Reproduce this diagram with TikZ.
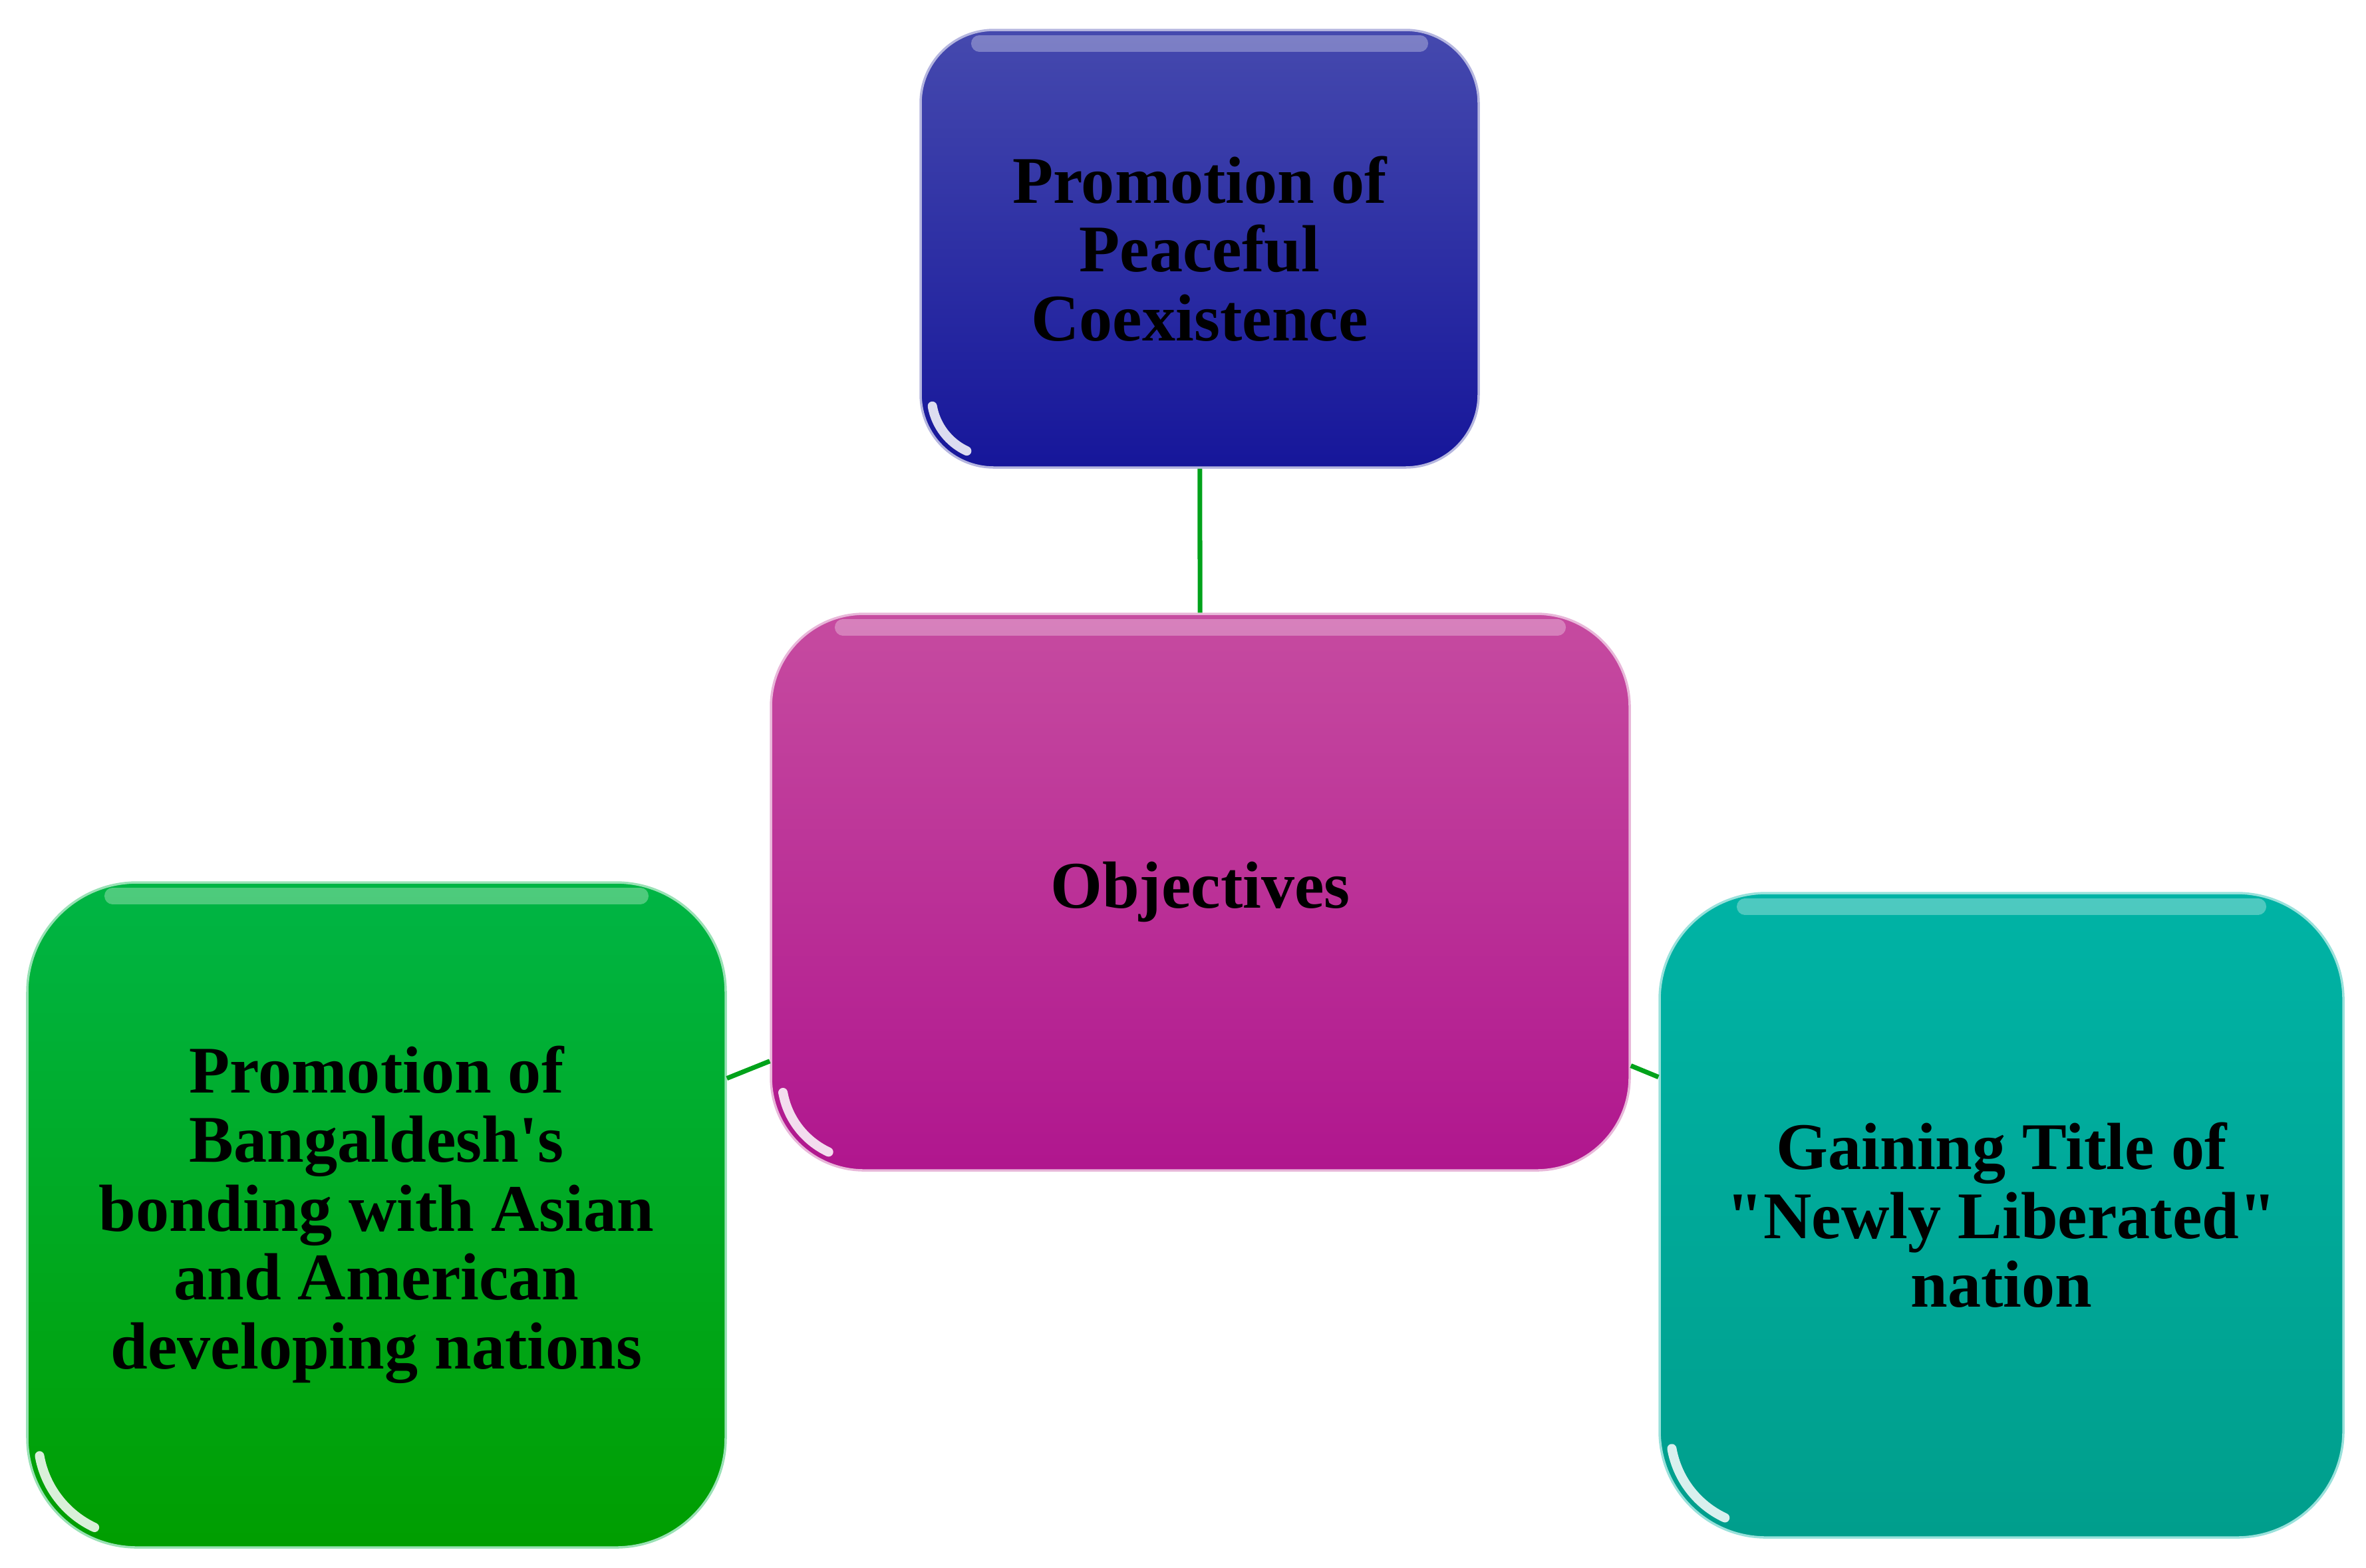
\documentclass[tikz,border=0pt]{standalone}
\usepackage{fontspec}
\setmainfont{Liberation Serif}[Ligatures=TeXOff]

\definecolor{peacetop}{HTML}{4549AE}
\definecolor{peacebot}{HTML}{16169A}
\definecolor{objtop}{HTML}{C64BA0}
\definecolor{objbot}{HTML}{B0168E}
\definecolor{asiatop}{HTML}{00B545}
\definecolor{asiabot}{HTML}{009E00}
\definecolor{titletop}{HTML}{00B3A5}
\definecolor{titlebot}{HTML}{009E8C}
\definecolor{linkgreen}{HTML}{00A21A}

\begin{document}
\begin{tikzpicture}[
        objbox/.style={rectangle, rounded corners=#1, align=center, inner sep=0pt, line width=1pt,
            font=\bfseries\fontsize{28.5}{29.5}\selectfont, text=black},
        link/.style={draw=linkgreen, line width=2pt},
        hilite/.style={white, opacity=0.3, line width=7pt, line cap=round},
        glint/.style={white, opacity=0.85, line width=4pt, line cap=round}
    ]
        \useasboundingbox (0,0) rectangle (35.57,-23.57);

        % Central node
        \node[objbox=1.4cm, minimum width=12.91cm, minimum height=8.37cm,
            top color=objtop, bottom color=objbot, draw=objtop!40!white] (obj) at (18.045,-13.415) {Objectives};

        % Top box
        \node[objbox=1.1cm, minimum width=8.39cm, minimum height=6.58cm,
            top color=peacetop, bottom color=peacebot, draw=peacetop!40!white] (peace) at (18.035,-3.74)
            {Promotion of\\Peaceful\\Coexistence};

        % Left box
        \node[objbox=1.65cm, minimum width=10.5cm, minimum height=10cm,
            top color=asiatop, bottom color=asiabot, draw=asiatop!40!white] (asia) at (5.66,-18.27)
            {Promotion of\\Bangaldesh\symbol{39}s\\bonding with Asian\\and American\\developing nations};

        % Right box
        \node[objbox=1.6cm, minimum width=10.28cm, minimum height=9.69cm,
            top color=titletop, bottom color=titlebot, draw=titletop!40!white] (title) at (30.09,-18.275)
            {Gaining Title of\\\symbol{34}Newly Liberated\symbol{34}\\nation};

        % Connectors
        \draw[link] (peace) -- (obj);
        \draw[link] (obj) -- (asia);
        \draw[link] (obj) -- (title);

        % Shine along the top edges
        \draw[hilite] ([shift={(0.9,-0.22)}]peace.north west) -- ([shift={(-0.9,-0.22)}]peace.north east);
        \draw[hilite] ([shift={(1.1,-0.22)}]obj.north west) -- ([shift={(-1.1,-0.22)}]obj.north east);
        \draw[hilite] ([shift={(1.3,-0.22)}]asia.north west) -- ([shift={(-1.3,-0.22)}]asia.north east);
        \draw[hilite] ([shift={(1.3,-0.22)}]title.north west) -- ([shift={(-1.3,-0.22)}]title.north east);

        % Glints at the lower left corners
        \draw[glint] ([shift={(1.1,1.1)}]peace.south west) ++(190:0.92) arc[start angle=190, end angle=245, radius=0.92];
        \draw[glint] ([shift={(1.4,1.4)}]obj.south west) ++(190:1.22) arc[start angle=190, end angle=245, radius=1.22];
        \draw[glint] ([shift={(1.65,1.65)}]asia.south west) ++(190:1.47) arc[start angle=190, end angle=245, radius=1.47];
        \draw[glint] ([shift={(1.6,1.6)}]title.south west) ++(190:1.42) arc[start angle=190, end angle=245, radius=1.42];
    \end{tikzpicture}
\end{document}
